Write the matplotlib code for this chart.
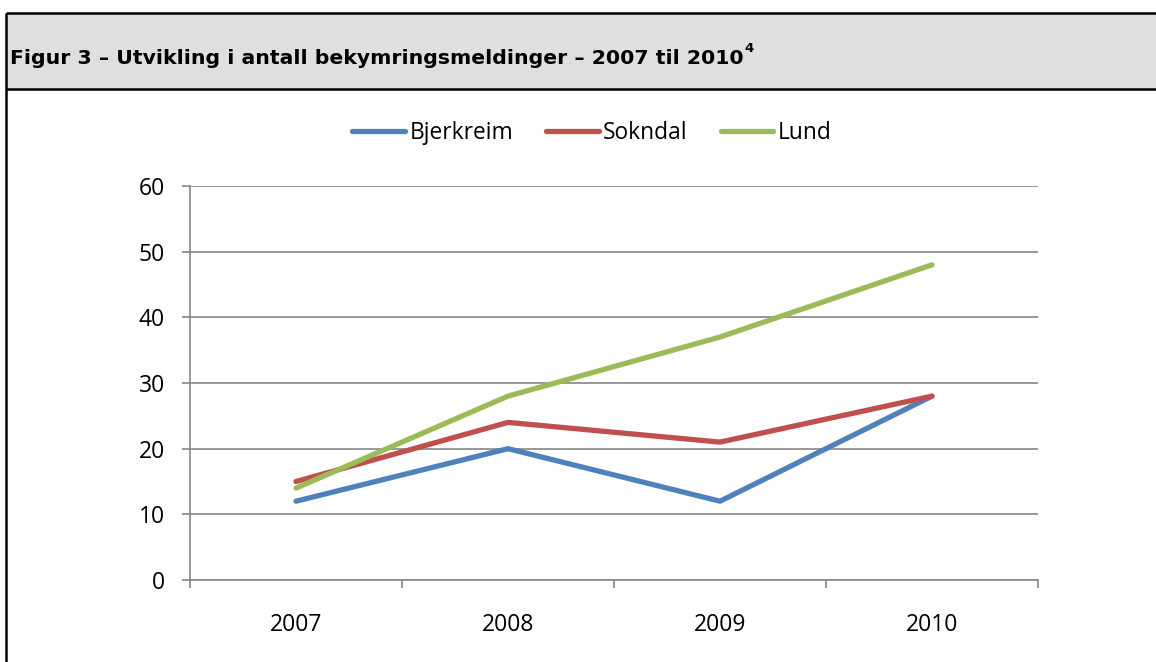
import matplotlib
matplotlib.use("Agg")
import matplotlib.pyplot as plt
from matplotlib.lines import Line2D
from matplotlib.patches import Rectangle

years = ["2007", "2008", "2009", "2010"]
bjerkreim = [12, 20, 12, 28]
sokndal = [15, 24, 21, 28]
lund = [14, 28, 37, 48]
series_names = ["Bjerkreim", "Sokndal", "Lund"]
colors = ["#4F81BD", "#C0504D", "#9BBB59"]
yticks = [0, 10, 20, 30, 40, 50, 60]
title = "Figur 3 \u2013 Utvikling i antall bekymringsmeldinger \u2013 2007 til 2010"

W, H = 1156, 662
fig = plt.figure(figsize=(W / 100, H / 100), dpi=100)

def fx(px):
    return px / W

def fy(py):
    return 1 - py / H

# header band and frame
fig.patches.append(Rectangle((fx(6), fy(89)), 1, fy(13) - fy(89), transform=fig.transFigure,
                             facecolor="#DFDFDF", edgecolor="none", zorder=0))
for (x0, y0, x1, y1) in [(6, 13, W + 5, 13), (6, 89, W + 5, 89), (6, 13, 6, H + 5)]:
    fig.add_artist(Line2D([fx(x0), fx(x1)], [fy(y0), fy(y1)], transform=fig.transFigure,
                          color="black", lw=1.8, solid_capstyle="butt"))

t = fig.text(fx(10), fy(58), title, fontsize=14.7, fontweight="bold", family="DejaVu Sans",
             va="center", ha="left", color="black")
fig.canvas.draw()
bb = t.get_window_extent()
fig.text((bb.x1 + 1) / W, fy(49), "4", fontsize=9.5, fontweight="bold", family="DejaVu Sans",
         va="center", ha="left", color="black")

ax = fig.add_axes([fx(190), fy(580), fx(1038) - fx(190), fy(186) - fy(580)])
x = list(range(len(years)))
for name, vals, c in zip(series_names, [bjerkreim, sokndal, lund], colors):
    ax.plot(x, vals, color=c, lw=3.8, solid_capstyle="round", solid_joinstyle="round", label=name)

ax.set_xlim(-0.5, len(years) - 0.5)
ax.set_ylim(0, 60)
ax.set_yticks(yticks)
ax.set_yticklabels([str(v) for v in yticks])
ax.yaxis.grid(True, color="#868686", lw=1.2)
ax.set_axisbelow(True)

ax.set_xticks([i - 0.5 for i in range(len(years) + 1)])
ax.set_xticklabels([])
ax.set_xticks(x, minor=True)
ax.set_xticklabels(years, minor=True)
ax.tick_params(axis="x", which="major", length=6, width=1.2, color="#868686", direction="out")
ax.tick_params(axis="x", which="minor", length=0, pad=24, labelsize=16.5)
ax.tick_params(axis="y", length=6, width=1.2, color="#868686", pad=12, labelsize=16.5)

for s in ["top", "right"]:
    ax.spines[s].set_visible(False)
for s in ["left", "bottom"]:
    ax.spines[s].set_color("#868686")
    ax.spines[s].set_linewidth(1.2)

for lab in ax.get_xticklabels(minor=True) + ax.get_yticklabels():
    lab.set_family("Open Sans")

leg = fig.legend(loc="center", bbox_to_anchor=(fx(592), fy(133)), ncol=3, frameon=False,
                 prop={"family": "Open Sans", "size": 16.4}, handlelength=2.3,
                 handletextpad=0.2, columnspacing=1.45)

fig.savefig("out.png", dpi=100, facecolor="white")
